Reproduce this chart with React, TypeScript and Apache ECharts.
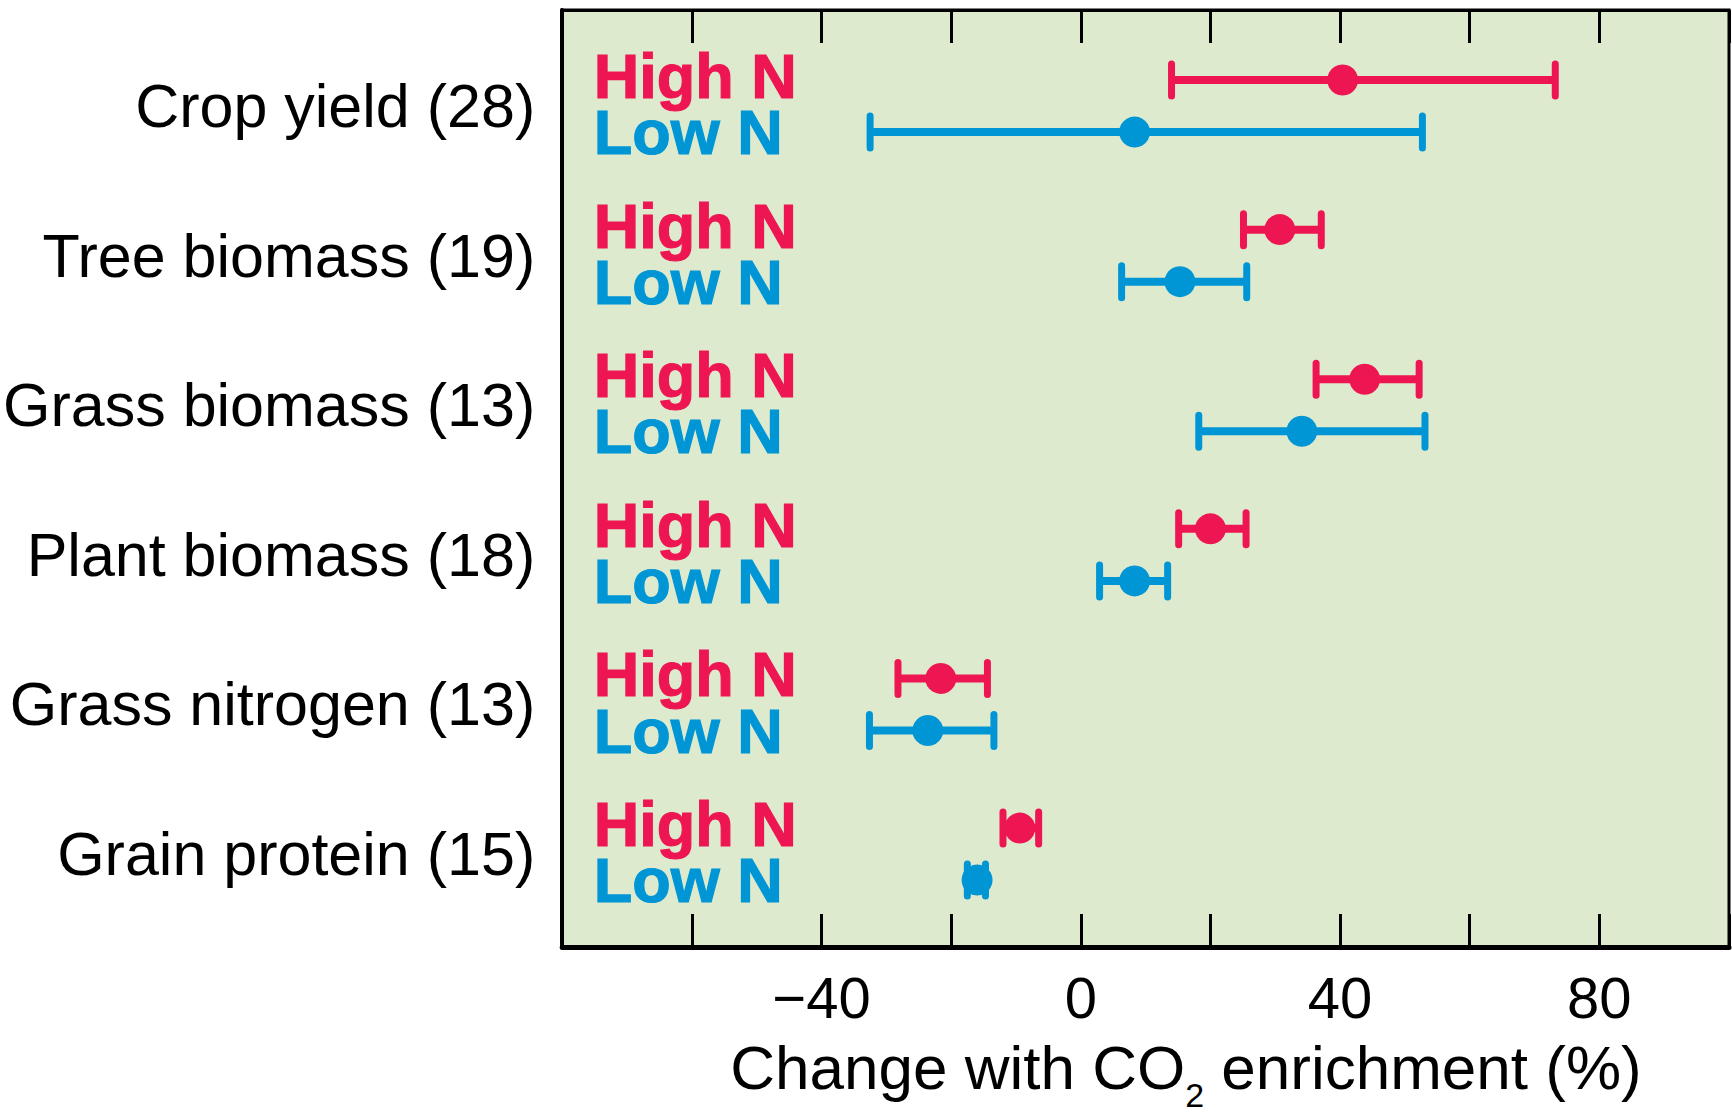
import { useEffect, useRef } from 'react';
import * as echarts from 'echarts';

const categories = [
  'Crop yield (28)',
  'Tree biomass (19)',
  'Grass biomass (13)',
  'Plant biomass (18)',
  'Grass nitrogen (13)',
  'Grain protein (15)',
];

const highMean = [40.4, 30.7, 43.8, 20.0, -21.6, -9.4];
const highLow = [14.0, 25.1, 36.3, 15.1, -28.2, -12.0];
const highHigh = [73.2, 37.1, 52.2, 25.5, -14.4, -6.5];

const lowMean = [8.3, 15.3, 34.1, 8.3, -23.6, -16.0];
const lowLow = [-32.5, 6.3, 18.2, 2.9, -32.6, -17.5];
const lowHigh = [52.7, 25.6, 53.1, 13.4, -13.4, -14.7];

const xTickLabels = [-40, 0, 40, 80];

const ROW_OFFSET = 0.174;
const RED = '#EE1652';
const BLUE = '#0096D6';
const FONT = "'Liberation Sans', Arial, Helvetica, sans-serif";

function errorBarSeries(name: string, lo: number[], hi: number[], offset: number, color: string) {
  return {
    name,
    type: 'custom',
    z: 2,
    silent: true,
    encode: { x: [0, 1], y: 2 },
    data: lo.map((l, i) => [l, hi[i], i + offset]),
    renderItem: (_params: any, api: any) => {
      const y = api.value(2);
      const p1 = api.coord([api.value(0), y]);
      const p2 = api.coord([api.value(1), y]);
      const h = 16;
      return {
        type: 'group',
        children: [
          {
            type: 'line',
            shape: { x1: p1[0], y1: p1[1], x2: p2[0], y2: p2[1] },
            style: { stroke: color, lineWidth: 8 },
          },
          {
            type: 'line',
            shape: { x1: p1[0], y1: p1[1] - h, x2: p1[0], y2: p1[1] + h },
            style: { stroke: color, lineWidth: 7, lineCap: 'round' },
          },
          {
            type: 'line',
            shape: { x1: p2[0], y1: p2[1] - h, x2: p2[0], y2: p2[1] + h },
            style: { stroke: color, lineWidth: 7, lineCap: 'round' },
          },
        ],
      };
    },
  };
}

function dotSeries(name: string, vals: number[], offset: number, color: string) {
  return {
    name,
    type: 'scatter',
    z: 3,
    silent: true,
    symbol: 'circle',
    symbolSize: 31,
    itemStyle: { color, opacity: 1 },
    data: vals.map((v, i) => [v, i + offset]),
  };
}

function labelSeries(text: string, offset: number, color: string, dy: number) {
  return {
    name: text + ' label',
    type: 'scatter',
    z: 4,
    silent: true,
    symbol: 'circle',
    symbolSize: 1,
    itemStyle: { color: 'rgba(0,0,0,0)' },
    data: categories.map((_, i) => [-80, i + offset]),
    label: {
      show: true,
      position: 'right',
      distance: 31,
      offset: [0, dy],
      formatter: text,
      color,
      opacity: 1,
      fontSize: 63,
      lineHeight: 44,
      fontWeight: 'bold',
      fontFamily: FONT,
      textBorderColor: color,
      textBorderWidth: 1.2,
    },
  };
}

export default function App() {
  const ref = useRef<HTMLDivElement>(null);

  useEffect(() => {
    document.body.style.margin = '0';
    const chart = echarts.init(ref.current!, null, { renderer: 'svg' });
    const option = {
      animation: false,
      grid: {
        left: 560,
        right: 3,
        top: 10,
        bottom: 168,
        show: true,
        backgroundColor: '#DEEACD',
        borderColor: '#000',
        borderWidth: 3,
      },
      xAxis: [
        {
          type: 'value',
          position: 'bottom',
          min: -80,
          max: 100,
          interval: 20,
          axisLine: { show: true, onZero: false, lineStyle: { color: '#000', width: 5 } },
          axisTick: { show: true, inside: true, length: 33, lineStyle: { color: '#000', width: 3 } },
          splitLine: { show: false },
          axisLabel: {
            margin: 21,
            fontSize: 58,
            color: '#000',
            fontFamily: FONT,
            formatter: (v: number) =>
              xTickLabels.includes(v) ? (v < 0 ? '\u2212' + Math.abs(v) : String(v)) : '',
          },
        },
        {
          type: 'value',
          position: 'top',
          min: -80,
          max: 100,
          interval: 20,
          axisLine: { show: true, onZero: false, lineStyle: { color: '#000', width: 3 } },
          axisTick: { show: true, inside: true, length: 33, lineStyle: { color: '#000', width: 3 } },
          splitLine: { show: false },
          axisLabel: { show: false },
        },
      ],
      yAxis: {
        type: 'value',
        inverse: true,
        min: -0.642,
        max: 5.621,
        axisLine: { show: true, onZero: false, lineStyle: { color: '#000', width: 4 } },
        axisTick: { show: false },
        splitLine: { show: false },
        axisLabel: {
          show: true,
          customValues: [0, 1, 2, 3, 4, 5],
          formatter: (v: number) => categories[Math.round(v)] ?? '',
          fontSize: 61,
          color: '#000',
          margin: 27,
          fontFamily: FONT,
        },
      },
      graphic: [
        {
          type: 'text',
          x: 1186,
          y: 1036,
          silent: true,
          style: {
            text: '{a|Change with CO}{b|2}{a| enrichment (%)}',
            align: 'center',
            verticalAlign: 'top',
            fill: '#000',
            rich: {
              a: { fontSize: 62, fontFamily: FONT, fill: '#000', lineHeight: 76, verticalAlign: 'top' },
              b: { fontSize: 34, fontFamily: FONT, fill: '#000', lineHeight: 4, verticalAlign: 'bottom' },
            },
          },
        },
      ],
      series: [
        errorBarSeries('High N bars', highLow, highHigh, -ROW_OFFSET, RED),
        errorBarSeries('Low N bars', lowLow, lowHigh, ROW_OFFSET, BLUE),
        dotSeries('High N', highMean, -ROW_OFFSET, RED),
        dotSeries('Low N', lowMean, ROW_OFFSET, BLUE),
        labelSeries('High N', -ROW_OFFSET, RED, -4),
        labelSeries('Low N', ROW_OFFSET, BLUE, 0),
      ],
    };
    chart.setOption(option as any);
    return () => chart.dispose();
  }, []);

  return <div ref={ref} style={{ width: 1732, height: 1115 }} />;
}
